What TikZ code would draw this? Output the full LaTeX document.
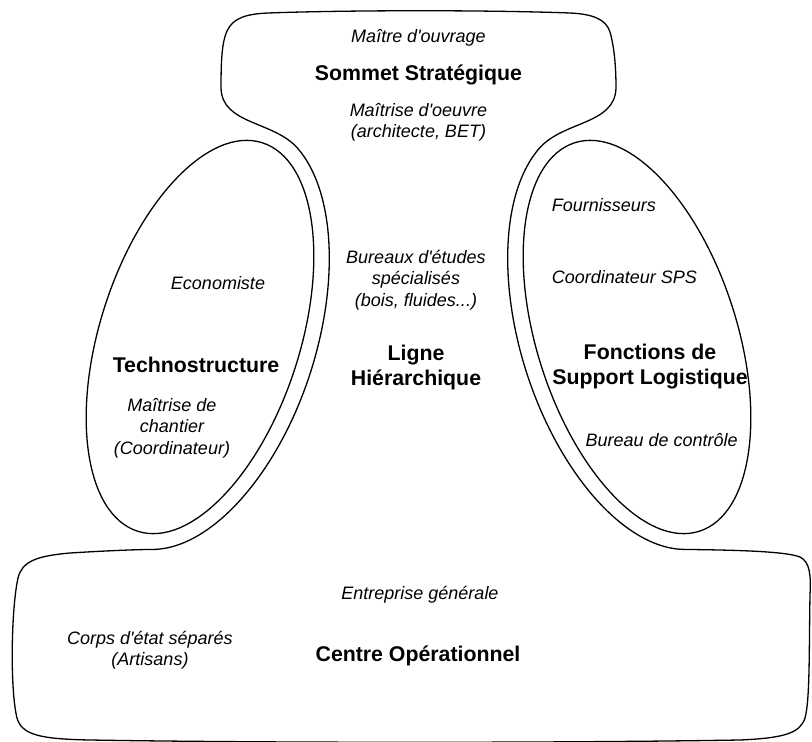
\documentclass[tikz,border=0pt]{standalone}
\usepackage{fontspec}
\setmainfont{Liberation Sans}
\usepackage{tikz}

\begin{document}
\begin{tikzpicture}[x=1pt,y=-1pt]
	\tikzstyle{actor}=[font=\fontsize{18}{21.5}\selectfont\itshape, align=center, inner sep=0pt]
	\tikzstyle{zone}=[font=\fontsize{21.3}{25.5}\selectfont\bfseries, align=center, inner sep=0pt]
	\tikzstyle{outline}=[line width=1.3pt, line join=round]
	\useasboundingbox (0,0) rectangle (812,742);

	\draw[outline, rotate around={72.2:(200,337)}] (200,337) ellipse [x radius=204pt, y radius=100pt];
	\draw[outline, rotate around={107.8:(637,337)}] (637,337) ellipse [x radius=204pt, y radius=100pt];

	\draw[outline] (221,88)
		.. controls (221,60) and (222,42) .. (227,31)
		.. controls (233,18) and (246,14) .. (268,13)
		.. controls (350,10) and (490,10) .. (570,13)
		.. controls (592,14) and (606,19) .. (610,32)
		.. controls (614,46) and (616,65) .. (616,88)
		.. controls (615,125) and (563,120.6) .. (538.91,148.74)
		{[rotate=107.8] arc [start angle=18, end angle=170.4, x radius=220pt, y radius=116pt]}
		.. controls (730,550) and (785,551) .. (800,557)
		.. controls (810,562) and (811,575) .. (810,595)
		.. controls (809,650) and (810,700) .. (805,718)
		.. controls (800,733) and (785,738) .. (740,740)
		.. controls (560,743) and (270,743) .. (90,740)
		.. controls (40,739) and (22,735) .. (17,718)
		.. controls (10,690) and (11,610) .. (18,578)
		.. controls (22,562) and (35,556) .. (70,553)
		.. controls (110,550.5) and (140,549.45) .. (152.11,549.45)
		{[rotate=72.2] arc [start angle=-170.4, end angle=-18, x radius=220pt, y radius=116pt]}
		.. controls (274,120.6) and (222,125) .. cycle;

	\node[actor] (mouvrage) at (418.5,38) {Maître d\textquotesingle ouvrage};
	\node[zone] (sommet) at (418.5,75) {Sommet Stratégique};
	\node[actor] (moeuvre) at (418.5,122.5) {Maîtrise d\textquotesingle oeuvre\\(architecte, BET)};

	\node[actor] (bet) at (416,280) {Bureaux d\textquotesingle études\\spécialisés\\(bois, fluides...)};
	\node[zone] (ligne) at (416,367.5) {Ligne\\Hiérarchique};

	\node[actor] (eco) at (218,283) {Economiste};
	\node[zone] (techno) at (196,365) {Technostructure};
	\node[actor] (chantier) at (172,428) {Maîtrise de\\chantier\\(Coordinateur)};

	\node[actor, anchor=west] (fourn) at (551.7,205) {Fournisseurs};
	\node[actor, anchor=west] (sps) at (551.7,277) {Coordinateur SPS};
	\node[zone] (support) at (650,366.5) {Fonctions de\\Support Logistique};
	\node[actor] (controle) at (661.7,440) {Bureau de contrôle};

	\node[actor] (eg) at (420,595) {Entreprise générale};
	\node[actor] (corps) at (150,650) {Corps d\textquotesingle état séparés\\(Artisans)};
	\node[zone] (centre) at (418,656) {Centre Opérationnel};
\end{tikzpicture}
\end{document}
